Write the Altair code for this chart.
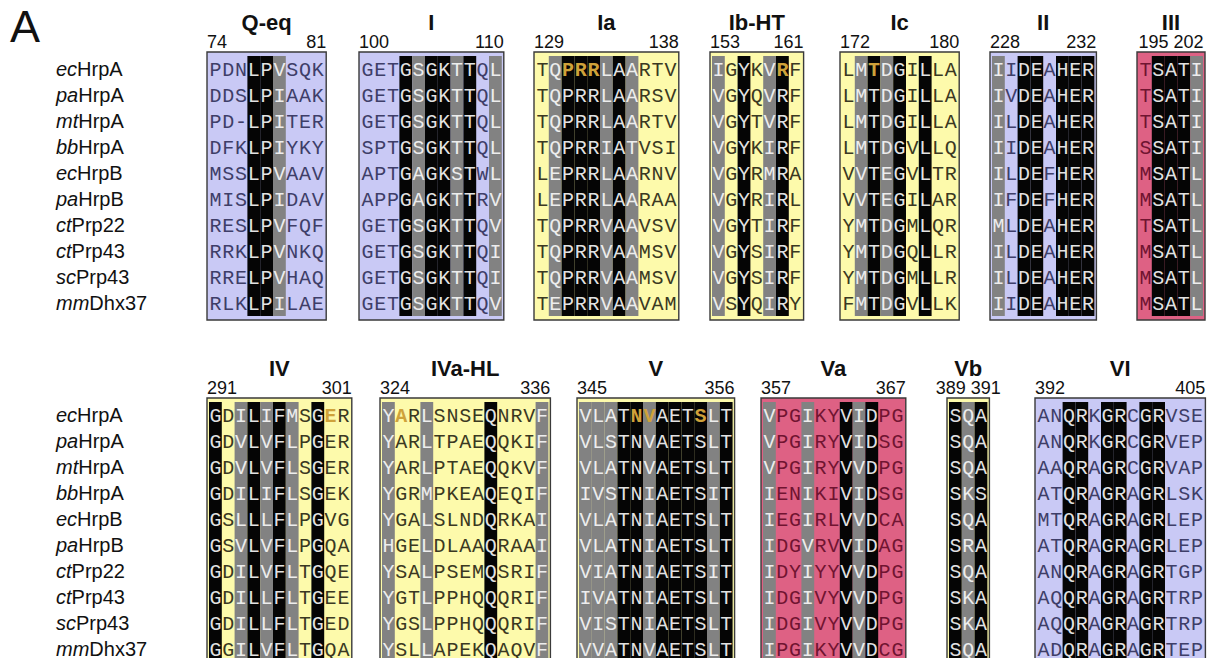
import altair as alt
import pandas as pd

# ---------------- data ----------------
SPECIES_PREFIX = ["ec", "pa", "mt", "bb", "ec", "pa", "ct", "ct", "sc", "mm"]
SPECIES_NAME = ["HrpA", "HrpA", "HrpA", "HrpA", "HrpB", "HrpB", "Prp22", "Prp43", "Prp43", "Dhx37"]

MOTIF_NAMES = ["Q-eq", "I", "Ia", "Ib-HT", "Ic", "II", "III",
               "IV", "IVa-HL", "V", "Va", "Vb", "VI"]
MOTIF_START = [74, 100, 129, 153, 172, 228, 195, 291, 324, 345, 357, 389, 392]
MOTIF_END = [81, 110, 138, 161, 180, 232, 202, 301, 336, 356, 367, 391, 405]
MOTIF_PANEL = ["blue", "blue", "yellow", "yellow", "yellow", "blue", "pink",
               "yellow", "yellow", "yellow", "pink", "yellow", "blue"]
# conservation class per column: '.' none, 'k' identical (black), 'g' similar (gray)
MOTIF_SHADE = ["...kkg...", "...kgkkgk.g", ".gkkkgkg...", "g.k.gk.", ".gkgk.k..",
               "g.kk.kkk", ".kkkg", "k.gkgkg.k..", "g..g....k...g",
               "gggkkgkkkkgk", "g..g..kgk..", "kgk", "..kk.kk.kk..."]
# highlighted residues (ecHrpA row, 1-based column)
MOTIF_HIGHLIGHT = [[], [], [3, 4, 5], [6], [3], [], [], [10], [2], [5, 6, 10], [], [], []]

SEQ_QEQ = ["PDNLPVSQK", "DDSLPIAAK", "PD-LPITER", "DFKLPIYKY", "MSSLPVAAV",
           "MISLPIDAV", "RESLPVFQF", "RRKLPVNKQ", "RRELPVHAQ", "RLKLPILAE"]
SEQ_I = ["GETGSGKTTQL", "GETGSGKTTQL", "GETGSGKTTQL", "SPTGSGKTTQL", "APTGAGKSTWL",
         "APPGAGKTTRV", "GETGSGKTTQV", "GETGSGKTTQI", "GETGSGKTTQI", "GETGSGKTTQV"]
SEQ_IA = ["TQPRRLAARTV", "TQPRRLAARSV", "TQPRRLAARTV", "TQPRRIATVSI", "LEPRRLAARNV",
          "LEPRRLAARAA", "TQPRRVAAVSV", "TQPRRVAAMSV", "TQPRRVAAMSV", "TEPRRVAAVAM"]
SEQ_IB = ["IGYKVRF", "VGYQVRF", "VGYTVRF", "VGYKIRF", "VGYRMRA",
          "VGYRIRL", "VGYTIRF", "VGYSIRF", "VGYSIRF", "VSYQIRY"]
SEQ_IC = ["LMTDGILLA", "LMTDGILLA", "LMTDGILLA", "LMTDGVLLQ", "VVTEGVLTR",
          "VVTEGILAR", "YMTDGMLQR", "YMTDGQLLR", "YMTDGMLLR", "FMTDGVLLK"]
SEQ_II = ["IIDEAHER", "IVDEAHER", "ILDEAHER", "IIDEAHER", "ILDEFHER",
          "IFDEFHER", "MLDEAHER", "ILDEAHER", "ILDEAHER", "IIDEAHER"]
SEQ_III = ["TSATI", "TSATI", "TSATI", "SSATI", "MSATL",
           "MSATL", "TSATL", "MSATL", "MSATL", "MSATL"]
SEQ_IV = ["GDILIFMSGER", "GDVLVFLPGER", "GDVLVFLSGER", "GDILIFLSGEK", "GSLLLFLPGVG",
          "GSVLVFLPGQA", "GDILVFLTGQE", "GDILLFLTGEE", "GDILLFLTGED", "GGILVFLTGQA"]
SEQ_IVA = ["YARLSNSEQNRVF", "YARLTPAEQQKIF", "YARLPTAEQQKVF", "YGRMPKEAQEQIF",
           "YGALSLNDQRKAI", "HGELDLAAQRAAI", "YSALPSEMQSRIF", "YGTLPPHQQQRIF",
           "YGSLPPHQQQRIF", "YSLLAPEKQAQVF"]
SEQ_V = ["VLATNVAETSLT", "VLSTNVAETSLT", "VLATNVAETSLT", "IVSTNIAETSIT", "VLATNIAETSLT",
         "VLATNIAETSLT", "VIATNIAETSIT", "IVATNIAETSLT", "VISTNIAETSLT", "VVATNVAETSLT"]
SEQ_VA = ["VPGIKYVIDPG", "VPGIRYVIDSG", "VPGIRYVVDPG", "IENIKIVIDSG", "IEGIRLVVDCA",
          "IDGVRVVIDAG", "IDYIYYVVDPG", "IDGIVYVVDPG", "IDGIVYVVDPG", "IPGIKYVVDCG"]
SEQ_VB = ["SQA", "SQA", "SQA", "SKS", "SQA", "SRA", "SQA", "SKA", "SKA", "SQA"]
SEQ_VI = ["ANQRKGRCGRVSE", "ANQRKGRCGRVEP", "AAQRAGRCGRVAP", "ATQRAGRAGRLSK",
          "MTQRAGRAGRLEP", "ATQRAGRAGRLEP", "ANQRAGRAGRTGP", "AQQRAGRAGRTRP",
          "AQQRAGRAGRTRP", "ADQRAGRAGRTEP"]
MOTIF_SEQS = [SEQ_QEQ, SEQ_I, SEQ_IA, SEQ_IB, SEQ_IC, SEQ_II, SEQ_III,
              SEQ_IV, SEQ_IVA, SEQ_V, SEQ_VA, SEQ_VB, SEQ_VI]

# ---------------- layout (pixels) ----------------
W, H = 1209, 650
OFF = 8
BOX_LEFT = [207, 359, 534, 710, 840, 990, 1137, 207, 380, 577, 761, 947, 1035]
BAND = [0, 0, 0, 0, 0, 0, 0, 1, 1, 1, 1, 1, 1]
BAND_TOP = [52, 398]
CW, ROW_H, PADX, PADY = 12.8, 26, 2, 4
LABEL_X = 56
LABEL_FS = 20
RES_FS = 20

FILL_COLORS = {"blue": "#c9c9f5", "yellow": "#fdfaab", "pink": "#de6184",
               "k": "#050505", "g": "#828282"}
TEXT_COLORS = {"k": "#e2e2e2", "g": "#ededed", "blue": "#3e3e68",
               "yellow": "#3a3822", "pink": "#701431", "gold": "#cfa23a"}
SHADED = ("k", "g")

# italic Arial/Liberation Sans advance widths (per 1000 em)
ITALIC_W = {"e": 556, "c": 500, "p": 556, "a": 556, "m": 833, "t": 278, "b": 556, "s": 500}

rects, residues, titles, nums = [], [], [], []
for m, name in enumerate(MOTIF_NAMES):
    seqs = MOTIF_SEQS[m]
    n = len(MOTIF_SHADE[m])
    top = BAND_TOP[BAND[m]]
    left = BOX_LEFT[m]
    cell0 = left + PADX
    right = cell0 + n * CW + PADX
    ctop = top + PADY
    cbot = ctop + 10 * ROW_H
    rects.append(dict(x=left, x2=right, y=top, y2=cbot + PADY, f=MOTIF_PANEL[m], box=True))
    titles.append(dict(x=(left + right) / 2, y=top - 22, t=name))
    if n <= 5:
        nums.append(dict(x=(left + right) / 2, y=top - 4, t=f"{MOTIF_START[m]} {MOTIF_END[m]}", a="c"))
    else:
        nums.append(dict(x=left, y=top - 4, t=str(MOTIF_START[m]), a="l"))
        nums.append(dict(x=right, y=top - 4, t=str(MOTIF_END[m]), a="r"))
    for c, cls in enumerate(MOTIF_SHADE[m]):
        if cls in SHADED:
            rects.append(dict(x=cell0 + c * CW, x2=cell0 + (c + 1) * CW,
                              y=ctop, y2=cbot, f=cls, box=False))
    for r, s in enumerate(seqs):
        for c, ch in enumerate(s):
            cls = MOTIF_SHADE[m][c]
            tcls = cls if cls in SHADED else MOTIF_PANEL[m]
            gold = (r == 0 and (c + 1) in MOTIF_HIGHLIGHT[m])
            residues.append(dict(x=cell0 + (c + 0.5) * CW,
                                 y=ctop + (r + 0.5) * ROW_H + 6.5,
                                 t=ch, tc="gold" if gold else tcls, gold=gold))

labels_pre, labels_suf = [], []
for band in range(2):
    ctop = BAND_TOP[band] + PADY
    for r, (p, s) in enumerate(zip(SPECIES_PREFIX, SPECIES_NAME)):
        yb = ctop + (r + 0.5) * ROW_H + 7
        pw = sum(ITALIC_W[ch] for ch in p) * LABEL_FS / 1000
        labels_pre.append(dict(x=LABEL_X, y=yb, t=p))
        labels_suf.append(dict(x=LABEL_X + pw, y=yb, t=s))

xs = alt.Scale(domain=[OFF, OFF + W], nice=False, zero=False)
ys = alt.Scale(domain=[OFF, OFF + H], nice=False, zero=False, reverse=True)
X = lambda f="x": alt.X(f"{f}:Q", scale=xs, axis=None)
Y = lambda f="y": alt.Y(f"{f}:Q", scale=ys, axis=None)
fscale = alt.Scale(domain=list(FILL_COLORS), range=list(FILL_COLORS.values()))
tscale = alt.Scale(domain=list(TEXT_COLORS), range=list(TEXT_COLORS.values()))

rect_df = pd.DataFrame(rects)
box_layer = alt.Chart(rect_df[rect_df.box]).mark_rect(
    stroke="#3a3a3a", strokeWidth=1.4, clip=True
).encode(
    x=X(), x2="x2:Q", y=Y(), y2="y2:Q",
    fill=alt.Fill("f:N", scale=fscale, legend=None),
)
shade_layer = alt.Chart(rect_df[~rect_df.box]).mark_rect(clip=True).encode(
    x=X(), x2="x2:Q", y=Y(), y2="y2:Q",
    fill=alt.Fill("f:N", scale=fscale, legend=None),
)

res_df = pd.DataFrame(residues)
res_layer = alt.Chart(res_df[~res_df.gold]).mark_text(
    font="Courier New, Liberation Mono, monospace", fontSize=RES_FS, align="center",
    baseline="alphabetic", clip=True
).encode(x=X(), y=Y(), text="t:N", color=alt.Color("tc:N", scale=tscale, legend=None))
gold_layer = alt.Chart(res_df[res_df.gold]).mark_text(
    font="Courier New, Liberation Mono, monospace", fontSize=RES_FS, fontWeight="bold",
    align="center", baseline="alphabetic"
).encode(x=X(), y=Y(), text="t:N", color=alt.Color("tc:N", scale=tscale, legend=None))

title_layer = alt.Chart(pd.DataFrame(titles)).mark_text(
    font="Liberation Sans", fontSize=22, fontWeight="bold", align="center", baseline="alphabetic", color="#111"
).encode(x=X(), y=Y(), text="t:N")

nums_df = pd.DataFrame(nums)
num_layers = []
for a, al in [("l", "left"), ("r", "right"), ("c", "center")]:
    sub = nums_df[nums_df.a == a]
    num_layers.append(alt.Chart(sub).mark_text(
        font="Liberation Sans", fontSize=18, align=al, baseline="alphabetic", color="#111"
    ).encode(x=X(), y=Y(), text="t:N"))

pre_layer = alt.Chart(pd.DataFrame(labels_pre)).mark_text(
    font="Liberation Sans", fontSize=LABEL_FS, fontStyle="italic", align="left", baseline="alphabetic", color="#111"
).encode(x=X(), y=Y(), text="t:N")
suf_layer = alt.Chart(pd.DataFrame(labels_suf)).mark_text(
    font="Liberation Sans", fontSize=LABEL_FS, align="left", baseline="alphabetic", color="#111"
).encode(x=X(), y=Y(), text="t:N")

panel_letter = alt.Chart(pd.DataFrame([dict(x=10, y=42, t="A")])).mark_text(
    font="Liberation Sans", fontSize=45, align="left", baseline="alphabetic", color="#111"
).encode(x=X(), y=Y(), text="t:N")

chart = alt.layer(
    box_layer, shade_layer, res_layer, gold_layer, title_layer, *num_layers,
    pre_layer, suf_layer, panel_letter
).properties(
    width=W, height=H, padding=0, autosize=alt.AutoSizeParams(type="none")
).configure_view(stroke=None)

chart.save("out.html", embed_options={"renderer": "svg", "actions": False})
